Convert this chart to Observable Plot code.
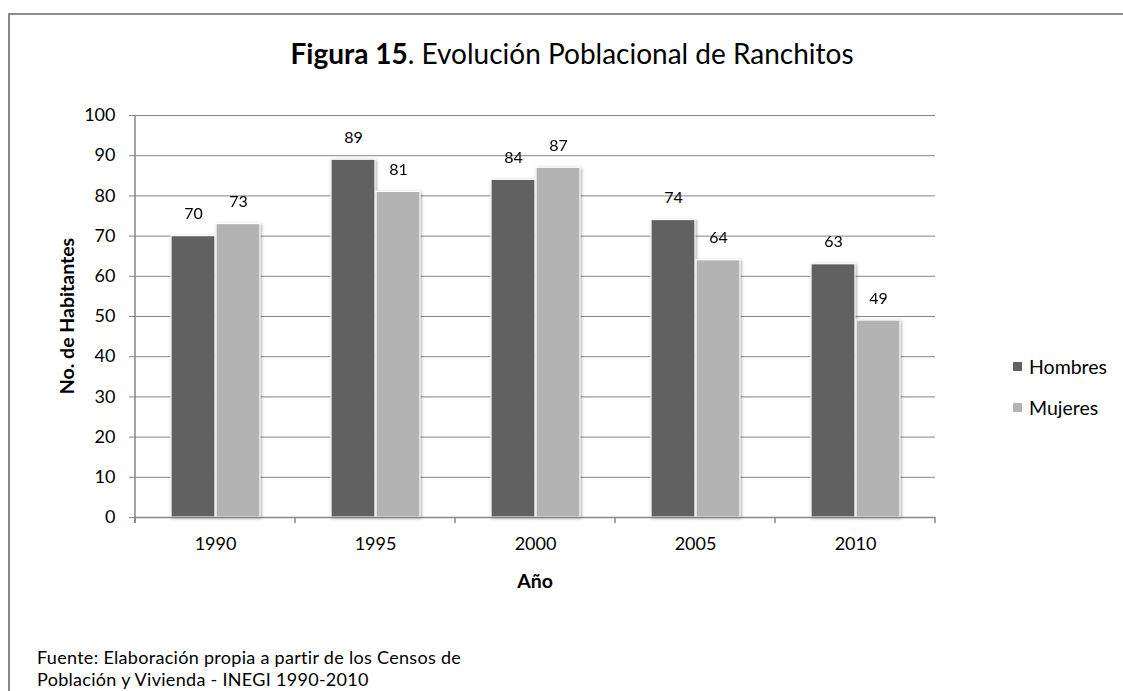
<!DOCTYPE html>
<html>
<head>
<meta charset="utf-8">
<script src="https://cdn.jsdelivr.net/npm/d3@7"></script>
<script src="https://cdn.jsdelivr.net/npm/@observablehq/plot@0.6"></script>
<style>
  html, body { margin: 0; padding: 0; background: #fff; overflow: hidden; width: 1123px; height: 691px; }
  body { position: relative; font-family: Lato, "Noto Sans", sans-serif; color: #000; }
  #border { position: absolute; left: 8px; top: 13px; width: 1140px; height: 720px; border: 2px solid #8a8a8a; box-sizing: border-box; }
  #chart { position: absolute; left: 0; top: 0; }
  .abs { position: absolute; white-space: nowrap; line-height: 1; }
  #title { left: 572px; top: 39px; transform: translateX(-50%); font-size: 28px; }
  #ylabel { left: 67px; top: 316px; transform: translate(-50%, -50%) rotate(-90deg); font-size: 19.5px; font-weight: bold; }
  #xlabel { left: 535px; top: 571px; transform: translateX(-50%); font-size: 19.5px; font-weight: bold; }
  .leg { left: 1013px; font-size: 19.5px; display: flex; align-items: center; }
  .leg span.sw { display: inline-block; width: 9px; height: 9px; margin-right: 7px; }
  .cap { left: 37px; font-size: 18px; line-height: 21.6px; letter-spacing: 0.3px; }
</style>
</head>
<body>
<div id="border"></div>
<div id="chart"></div>
<div id="title" class="abs"><b>Figura 15</b>. Evolución Poblacional de Ranchitos</div>
<div id="ylabel" class="abs">No. de Habitantes</div>
<div id="xlabel" class="abs">Año</div>
<div id="legend"></div>
<div class="abs cap" style="top:647px">Fuente: Elaboración propia a partir de los Censos de</div>
<div class="abs cap" style="top:669px">Población y Vivienda - INEGI 1990-2010</div>
<script>
const years = ["1990", "1995", "2000", "2005", "2010"];
const hombres = [70, 89, 84, 74, 63];
const mujeres = [73, 81, 87, 64, 49];
const series = ["Hombres", "Mujeres"];
const seriesColors = ["#616161", "#b3b3b3"];
const yTicks = [0, 10, 20, 30, 40, 50, 60, 70, 80, 90, 100];

const data = years.flatMap((yr, i) => [
  {year: yr, serie: series[0], value: hombres[i]},
  {year: yr, serie: series[1], value: mujeres[i]}
]);

const plot = Plot.plot({
  width: 1123,
  height: 691,
  marginLeft: 135,
  marginRight: 188,
  marginTop: 115,
  marginBottom: 174,
  style: {fontFamily: "Lato, 'Noto Sans', sans-serif", fontSize: "18px", color: "#000", background: "transparent"},
  fx: {domain: years, padding: 0, label: null},
  x: {domain: series, paddingInner: 0.03, paddingOuter: 0.78, axis: null},
  y: {domain: [0, 100], label: null},
  color: {domain: series, range: seriesColors},
  marks: [
    Plot.gridY(yTicks.filter(d => d > 0), {stroke: "#868686", strokeOpacity: 1}),
    Plot.axisY(yTicks, {tickSize: 6, tickPadding: 14, stroke: "#868686", label: null, fontSize: 18}),
    Plot.axisFx({anchor: "bottom", tickSize: 0, tickPadding: 20, label: null, fontSize: 18}),
    Plot.barY(data, {fx: "year", x: "serie", y: "value", fill: "serie", stroke: "white", strokeWidth: 1.2}),
    Plot.ruleY([0], {stroke: "#868686", strokeWidth: 1.5}),
    Plot.text(data, {fx: "year", x: "serie", y: "value", text: d => String(d.value), dy: -22, fontSize: 16})
  ]
});

document.getElementById("chart").appendChild(plot);

// bar shadows
d3.select(plot).selectAll("g[aria-label='bar']").style("filter", "drop-shadow(1px 1px 1.5px rgba(0,0,0,0.35))");

// axis lines and category boundary ticks using Plot's own scales
const fxs = plot.scale("fx");
const ys = plot.scale("y");
const y0 = ys.apply(0), y100 = ys.apply(100);
const bounds = years.map(d => fxs.apply(d)).concat([fxs.apply(years[years.length - 1]) + fxs.bandwidth]);
const g = d3.select(plot).append("g").attr("stroke", "#868686").attr("stroke-width", 1.5);
g.append("line").attr("x1", bounds[0]).attr("x2", bounds[0]).attr("y1", y100).attr("y2", y0 + 6);
bounds.forEach(b => g.append("line").attr("x1", b).attr("x2", b).attr("y1", y0).attr("y2", y0 + 6));

// legend
const legend = document.getElementById("legend");
const legTops = [357, 398];
series.forEach((s, i) => {
  const el = document.createElement("div");
  el.className = "abs leg";
  el.style.top = legTops[i] + "px";
  el.innerHTML = `<span class="sw" style="background:${seriesColors[i]}"></span>${s}`;
  legend.appendChild(el);
});
</script>
</body>
</html>
